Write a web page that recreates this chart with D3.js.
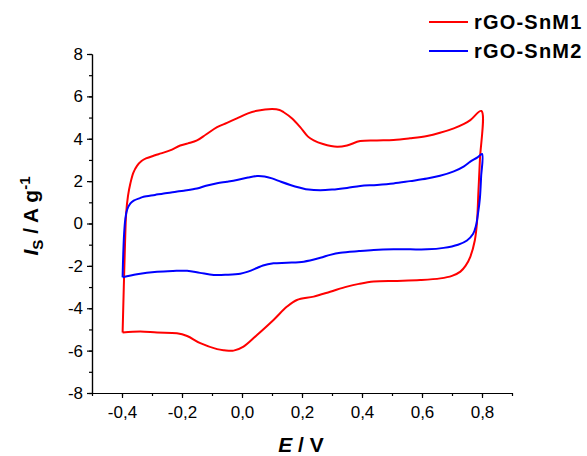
<!DOCTYPE html>
<html><head><meta charset="utf-8">
<script src="https://cdn.jsdelivr.net/npm/d3@7"></script>
<style>body{margin:0;background:#fff}svg{display:block}</style>
</head><body>
<script>
// Data
const seriesNames = ["rGO-SnM1", "rGO-SnM2"];
const seriesColors = ["#ff0000", "#0000ff"];
const xTicks = [-0.4, -0.2, 0.0, 0.2, 0.4, 0.6, 0.8];
const yTicks = [-8, -6, -4, -2, 0, 2, 4, 6, 8];
// rGO-SnM1 : [E (V), I (A/g)] along the closed loop
const snm1 = [
  [-0.398,-5.15],[-0.394,-3.0],[-0.390,-1.0],[-0.386,0.5],[-0.380,1.3],[-0.372,1.9],[-0.362,2.4],[-0.350,2.72],
  [-0.335,2.95],[-0.320,3.07],[-0.290,3.22],[-0.270,3.31],[-0.240,3.45],[-0.206,3.68],[-0.180,3.78],[-0.150,3.92],
  [-0.120,4.2],[-0.083,4.55],[-0.050,4.75],[-0.017,4.96],[0.020,5.2],[0.050,5.32],[0.100,5.40],[0.125,5.36],
  [0.139,5.25],[0.167,4.96],[0.194,4.55],[0.220,4.1],[0.239,3.92],[0.270,3.75],[0.317,3.62],[0.350,3.68],
  [0.394,3.89],[0.450,3.92],[0.505,3.94],[0.560,4.02],[0.617,4.13],[0.660,4.28],[0.706,4.49],[0.740,4.7],
  [0.761,4.88],[0.798,5.31],
  [0.793,3.0],[0.788,1.5],[0.783,0.0],[0.776,-0.8],[0.761,-1.57],[0.745,-2.0],[0.728,-2.27],[0.700,-2.47],
  [0.661,-2.59],[0.594,-2.67],[0.517,-2.71],[0.439,-2.74],[0.390,-2.85],[0.350,-2.98],[0.294,-3.22],[0.239,-3.45],
  [0.183,-3.61],[0.150,-3.92],[0.105,-4.55],[0.050,-5.26],[0.005,-5.81],[-0.028,-6.0],[-0.060,-5.98],[-0.083,-5.93],
  [-0.139,-5.65],[-0.183,-5.31],[-0.217,-5.18],[-0.283,-5.15],[-0.339,-5.1],[-0.398,-5.15]
];
// rGO-SnM2
const snm2 = [
  [-0.398,-2.54],[-0.396,-1.5],[-0.393,-0.5],[-0.389,0.2],[-0.383,0.65],[-0.372,0.95],[-0.361,1.08],[-0.340,1.2],
  [-0.328,1.26],[-0.290,1.35],[-0.261,1.42],[-0.220,1.5],[-0.194,1.55],[-0.150,1.65],[-0.120,1.78],[-0.083,1.90],
  [-0.050,1.97],[-0.017,2.05],[0.020,2.17],[0.050,2.24],[0.075,2.22],[0.100,2.13],[0.130,1.97],[0.161,1.82],
  [0.194,1.69],[0.222,1.6],[0.261,1.57],[0.300,1.6],[0.350,1.68],[0.394,1.77],[0.450,1.82],[0.505,1.89],
  [0.560,2.0],[0.617,2.12],[0.660,2.25],[0.706,2.46],[0.740,2.7],[0.761,2.92],[0.785,3.12],[0.800,3.28],
  [0.797,2.2],[0.793,1.2],[0.787,0.5],[0.780,-0.1],[0.770,-0.5],[0.750,-0.8],[0.720,-1.0],[0.672,-1.15],
  [0.617,-1.22],[0.561,-1.22],[0.505,-1.22],[0.439,-1.25],[0.390,-1.3],[0.328,-1.38],[0.294,-1.48],[0.261,-1.62],
  [0.206,-1.8],[0.150,-1.85],[0.105,-1.88],[0.070,-1.98],[0.050,-2.1],[0.020,-2.27],[-0.006,-2.37],[-0.050,-2.42],
  [-0.094,-2.43],[-0.140,-2.33],[-0.183,-2.23],[-0.230,-2.24],[-0.283,-2.28],[-0.350,-2.4],[-0.398,-2.54]
];
const allSeries = [snm1, snm2];

const W = 587, H = 456;
const svg = d3.select("body").append("svg").attr("width", W).attr("height", H)
  .style("font-family", "Arial, 'Liberation Sans', sans-serif");

const x = d3.scaleLinear().domain([-0.5, 0.9]).range([92, 512]);
const y = d3.scaleLinear().domain([-8, 8]).range([393, 54]);

const fmtX = d => d.toFixed(1).replace(".", ",").replace("\u2212", "-");
const fmtY = d => String(d);

// minor ticks
const xMinor = d3.range(-0.5, 0.9001, 0.1).map(v => +v.toFixed(2));
const yMinor = d3.range(-8, 8.001, 1);

const gx = svg.append("g").attr("transform", `translate(0,${y(-8)})`);
gx.call(d3.axisBottom(x).tickValues(xMinor).tickSize(3).tickFormat("").tickSizeOuter(0));
gx.call(g => g.append("g").call(d3.axisBottom(x).tickValues(xTicks).tickSize(5).tickFormat(fmtX).tickSizeOuter(0)));
const gy = svg.append("g").attr("transform", `translate(${x(-0.5)},0)`);
gy.call(d3.axisLeft(y).tickValues(yMinor).tickSize(3).tickFormat("").tickSizeOuter(0));
gy.call(g => g.append("g").call(d3.axisLeft(y).tickValues(yTicks).tickSize(5).tickFormat(fmtY).tickSizeOuter(0)));

svg.selectAll(".domain").attr("stroke", "#000").attr("stroke-width", 1.2);
svg.selectAll(".tick line").attr("stroke", "#000").attr("stroke-width", 1.2);
svg.selectAll(".tick text").attr("font-size", 17).attr("fill", "#000")
  .attr("font-family", "Arial, 'Liberation Sans', sans-serif");
gx.selectAll(".tick text").attr("dy", "1.0em");
gy.selectAll(".tick text").attr("dx", "-1px");

// curves
const line = d3.line().x(d => x(d[0])).y(d => y(d[1])).curve(d3.curveCatmullRom.alpha(0.5));
allSeries.forEach((s, i) => {
  svg.append("path").datum(s).attr("d", line).attr("fill", "none")
    .attr("stroke", seriesColors[i]).attr("stroke-width", 2).attr("stroke-linejoin", "round");
});

// axis titles
const xt = svg.append("text").attr("x", 301).attr("y", 452).attr("text-anchor", "middle")
  .attr("font-size", 21).attr("font-weight", "bold");
xt.append("tspan").attr("font-style", "italic").text("E");
xt.append("tspan").text(" / V");

const yt = svg.append("text").attr("transform", "translate(38,216) rotate(-90)").attr("text-anchor", "middle")
  .attr("font-size", 21).attr("font-weight", "bold");
yt.append("tspan").attr("font-style", "italic").text("I");
yt.append("tspan").attr("font-size", 15).attr("dy", 5).text("S");
yt.append("tspan").attr("dy", -5).text(" / A g");
yt.append("tspan").attr("font-size", 15).attr("dy", -8).text("-1");

// legend
const leg = svg.append("g");
seriesNames.forEach((n, i) => {
  const ly = 22 + i * 29;
  leg.append("line").attr("x1", 429).attr("x2", 468).attr("y1", ly).attr("y2", ly)
    .attr("stroke", seriesColors[i]).attr("stroke-width", 2);
  leg.append("text").attr("x", 474).attr("y", ly + 7).attr("font-size", 20).attr("font-weight", "bold")
    .attr("letter-spacing", 1.2).text(n);
});
</script>
</body></html>
